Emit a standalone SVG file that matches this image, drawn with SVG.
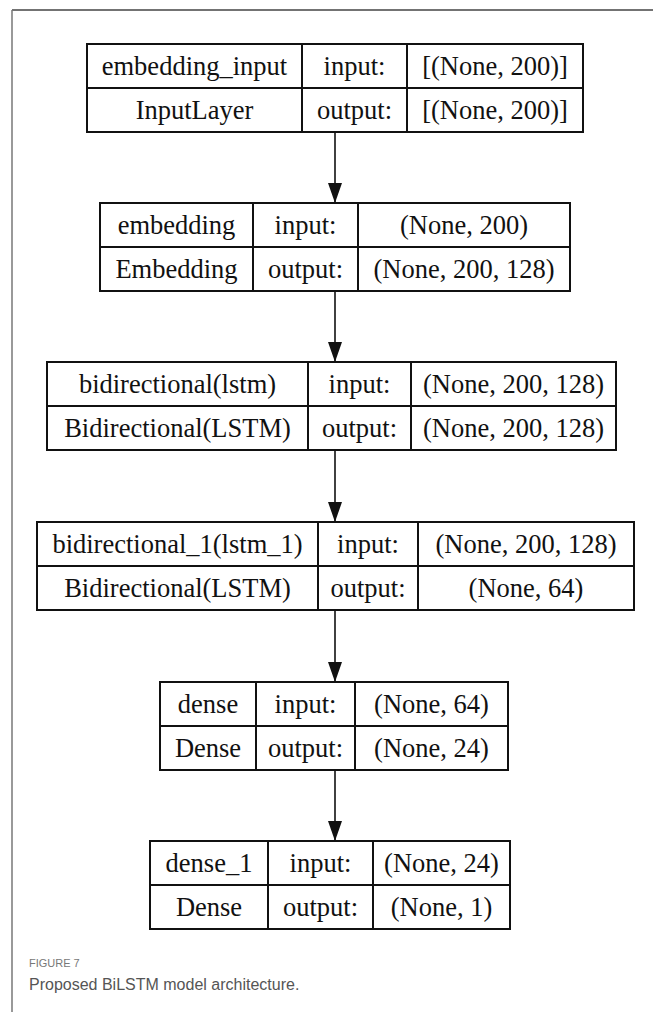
<svg xmlns="http://www.w3.org/2000/svg" width="653" height="1015" viewBox="0 0 653 1015">
<style>
.bg{fill:#ffffff}
.box{fill:#ffffff;stroke:#111;stroke-width:2}
.ln{stroke:#111;stroke-width:2;fill:none}
.t{font-family:"Liberation Serif","Times New Roman",serif;font-size:26.5px;fill:#111;text-anchor:middle}
.conn{stroke:#111;stroke-width:1.6;fill:none}
.cap1{font-family:"Liberation Sans",Arial,sans-serif;font-size:11px;fill:#777}
.cap2{font-family:"Liberation Sans",Arial,sans-serif;font-size:16px;fill:#555}
</style>
<defs>
<marker id="ah" markerUnits="userSpaceOnUse" markerWidth="20" markerHeight="14" viewBox="0 0 20 14" refX="20" refY="7" orient="auto">
<path d="M0,0 L20,7 L0,14 z" fill="#111"/>
</marker>
</defs>
<rect class="bg" x="0" y="0" width="653" height="1015"/>
<g id="frame">
<line x1="12" y1="10" x2="653" y2="10" stroke="#444" stroke-width="1.5"/>
<line x1="12" y1="10" x2="12" y2="1012" stroke="#777" stroke-width="1.5"/>
</g>
<g id="connectors">
<line class="conn" x1="335" y1="132" x2="335" y2="203" marker-end="url(#ah)"/>
<line class="conn" x1="335" y1="291" x2="335" y2="362" marker-end="url(#ah)"/>
<line class="conn" x1="335" y1="450" x2="335" y2="522" marker-end="url(#ah)"/>
<line class="conn" x1="335" y1="610" x2="335" y2="682" marker-end="url(#ah)"/>
<line class="conn" x1="335" y1="770" x2="335" y2="841" marker-end="url(#ah)"/>
</g>
<g id="node_embedding_input">
<rect class="box" x="87" y="44" width="496" height="88"/>
<line class="ln" x1="87" y1="88" x2="583" y2="88"/>
<line class="ln" x1="302" y1="44" x2="302" y2="132"/>
<line class="ln" x1="407" y1="44" x2="407" y2="132"/>
<text class="t" x="194.5" y="75">embedding_input</text>
<text class="t" x="354.5" y="75">input:</text>
<text class="t" x="495" y="75">[(None, 200)]</text>
<text class="t" x="194.5" y="119">InputLayer</text>
<text class="t" x="354.5" y="119">output:</text>
<text class="t" x="495" y="119">[(None, 200)]</text>
</g>
<g id="node_embedding">
<rect class="box" x="100" y="203" width="470" height="88"/>
<line class="ln" x1="100" y1="247" x2="570" y2="247"/>
<line class="ln" x1="253" y1="203" x2="253" y2="291"/>
<line class="ln" x1="358" y1="203" x2="358" y2="291"/>
<text class="t" x="176.5" y="234">embedding</text>
<text class="t" x="305.5" y="234">input:</text>
<text class="t" x="464" y="234">(None, 200)</text>
<text class="t" x="176.5" y="278">Embedding</text>
<text class="t" x="305.5" y="278">output:</text>
<text class="t" x="464" y="278">(None, 200, 128)</text>
</g>
<g id="node_bidirectional">
<rect class="box" x="47" y="362" width="569" height="88"/>
<line class="ln" x1="47" y1="406" x2="616" y2="406"/>
<line class="ln" x1="308" y1="362" x2="308" y2="450"/>
<line class="ln" x1="411" y1="362" x2="411" y2="450"/>
<text class="t" x="177.5" y="393">bidirectional(lstm)</text>
<text class="t" x="359.5" y="393">input:</text>
<text class="t" x="513.5" y="393">(None, 200, 128)</text>
<text class="t" x="177.5" y="437">Bidirectional(LSTM)</text>
<text class="t" x="359.5" y="437">output:</text>
<text class="t" x="513.5" y="437">(None, 200, 128)</text>
</g>
<g id="node_bidirectional_1">
<rect class="box" x="37" y="522" width="597" height="88"/>
<line class="ln" x1="37" y1="566" x2="634" y2="566"/>
<line class="ln" x1="318" y1="522" x2="318" y2="610"/>
<line class="ln" x1="418" y1="522" x2="418" y2="610"/>
<text class="t" x="177.5" y="553">bidirectional_1(lstm_1)</text>
<text class="t" x="368" y="553">input:</text>
<text class="t" x="526" y="553">(None, 200, 128)</text>
<text class="t" x="177.5" y="597">Bidirectional(LSTM)</text>
<text class="t" x="368" y="597">output:</text>
<text class="t" x="526" y="597">(None, 64)</text>
</g>
<g id="node_dense">
<rect class="box" x="160" y="682" width="348" height="88"/>
<line class="ln" x1="160" y1="726" x2="508" y2="726"/>
<line class="ln" x1="256" y1="682" x2="256" y2="770"/>
<line class="ln" x1="355" y1="682" x2="355" y2="770"/>
<text class="t" x="208" y="713">dense</text>
<text class="t" x="305.5" y="713">input:</text>
<text class="t" x="431.5" y="713">(None, 64)</text>
<text class="t" x="208" y="757">Dense</text>
<text class="t" x="305.5" y="757">output:</text>
<text class="t" x="431.5" y="757">(None, 24)</text>
</g>
<g id="node_dense_1">
<rect class="box" x="150" y="841" width="360" height="88"/>
<line class="ln" x1="150" y1="885" x2="510" y2="885"/>
<line class="ln" x1="268" y1="841" x2="268" y2="929"/>
<line class="ln" x1="373" y1="841" x2="373" y2="929"/>
<text class="t" x="209" y="872">dense_1</text>
<text class="t" x="320.5" y="872">input:</text>
<text class="t" x="441.5" y="872">(None, 24)</text>
<text class="t" x="209" y="916">Dense</text>
<text class="t" x="320.5" y="916">output:</text>
<text class="t" x="441.5" y="916">(None, 1)</text>
</g>
<g id="caption">
<text class="cap1" x="29" y="967">FIGURE 7</text>
<text class="cap2" x="29" y="990">Proposed BiLSTM model architecture.</text>
</g>
</svg>
